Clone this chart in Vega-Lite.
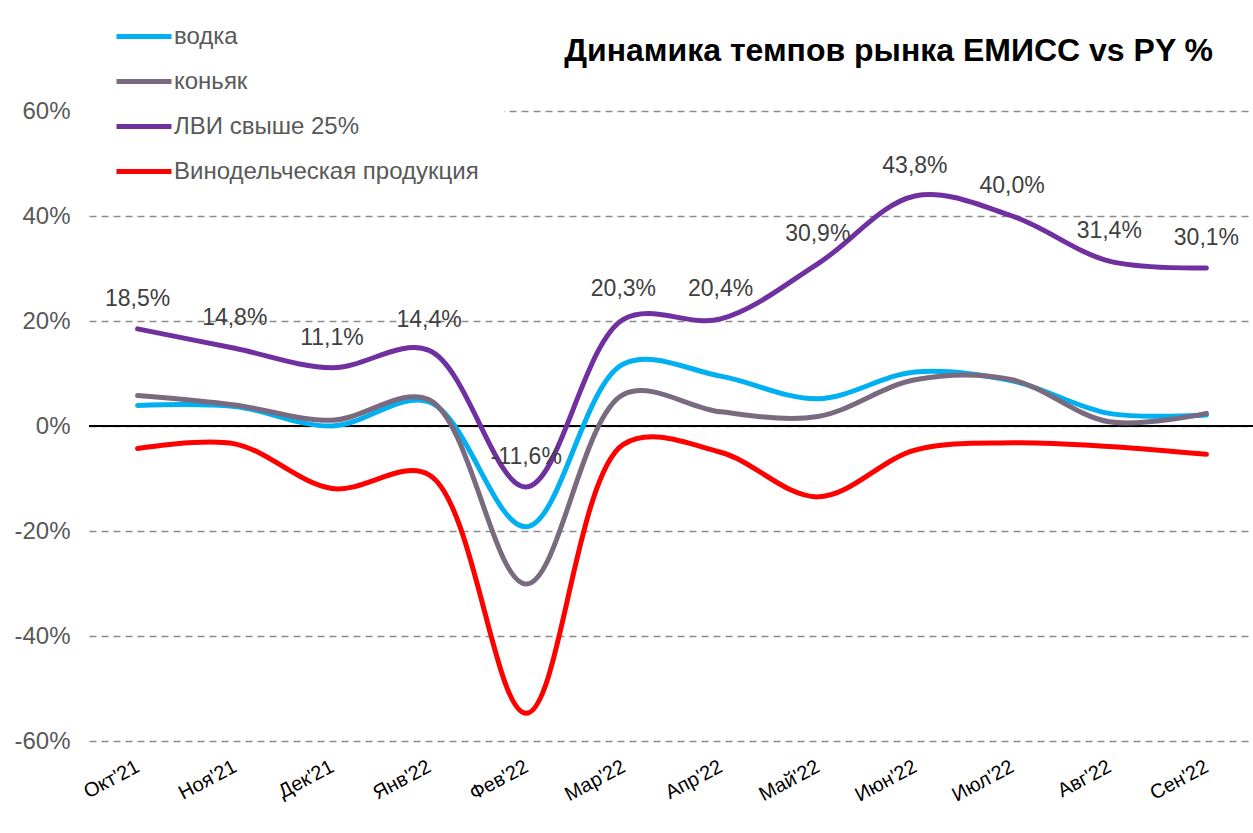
{
  "$schema": "https://vega.github.io/schema/vega-lite/v6.json",
  "autosize": {"type": "none"},
  "padding": {"left": 89, "top": 111, "right": 0, "bottom": 92},
  "width": 1166,
  "height": 630,
  "background": "white",
  "title": {
    "text": "Динамика темпов рынка ЕМИСС vs PY %",
    "anchor": "end",
    "frame": "group",
    "font": "Liberation Sans",
    "fontSize": 32,
    "fontWeight": "bold",
    "color": "black",
    "baseline": "bottom",
    "offset": -118,
    "dx": -42
  },
  "config": {
    "locale": {"number": {"decimal": ",", "thousands": " ", "grouping": [3], "currency": ["", " ₽"], "minus": "-"}},
    "view": {"stroke": null},
    "font": "Liberation Sans"
  },
  "data": {
    "values": [
      {"month": "Окт'21", "series": "водка", "value": 0.039},
      {"month": "Ноя'21", "series": "водка", "value": 0.037},
      {"month": "Дек'21", "series": "водка", "value": 0.000},
      {"month": "Янв'22", "series": "водка", "value": 0.046},
      {"month": "Фев'22", "series": "водка", "value": -0.192},
      {"month": "Мар'22", "series": "водка", "value": 0.118},
      {"month": "Апр'22", "series": "водка", "value": 0.095},
      {"month": "Май'22", "series": "водка", "value": 0.052},
      {"month": "Июн'22", "series": "водка", "value": 0.103},
      {"month": "Июл'22", "series": "водка", "value": 0.086},
      {"month": "Авг'22", "series": "водка", "value": 0.024},
      {"month": "Сен'22", "series": "водка", "value": 0.021},
      {"month": "Окт'21", "series": "коньяк", "value": 0.058},
      {"month": "Ноя'21", "series": "коньяк", "value": 0.040},
      {"month": "Дек'21", "series": "коньяк", "value": 0.011},
      {"month": "Янв'22", "series": "коньяк", "value": 0.050},
      {"month": "Фев'22", "series": "коньяк", "value": -0.301},
      {"month": "Мар'22", "series": "коньяк", "value": 0.060},
      {"month": "Апр'22", "series": "коньяк", "value": 0.027},
      {"month": "Май'22", "series": "коньяк", "value": 0.018},
      {"month": "Июн'22", "series": "коньяк", "value": 0.088},
      {"month": "Июл'22", "series": "коньяк", "value": 0.088},
      {"month": "Авг'22", "series": "коньяк", "value": 0.008},
      {"month": "Сен'22", "series": "коньяк", "value": 0.024},
      {"month": "Окт'21", "series": "ЛВИ свыше 25%", "value": 0.185},
      {"month": "Ноя'21", "series": "ЛВИ свыше 25%", "value": 0.148},
      {"month": "Дек'21", "series": "ЛВИ свыше 25%", "value": 0.111},
      {"month": "Янв'22", "series": "ЛВИ свыше 25%", "value": 0.144},
      {"month": "Фев'22", "series": "ЛВИ свыше 25%", "value": -0.116},
      {"month": "Мар'22", "series": "ЛВИ свыше 25%", "value": 0.203},
      {"month": "Апр'22", "series": "ЛВИ свыше 25%", "value": 0.204},
      {"month": "Май'22", "series": "ЛВИ свыше 25%", "value": 0.309},
      {"month": "Июн'22", "series": "ЛВИ свыше 25%", "value": 0.438},
      {"month": "Июл'22", "series": "ЛВИ свыше 25%", "value": 0.400},
      {"month": "Авг'22", "series": "ЛВИ свыше 25%", "value": 0.314},
      {"month": "Сен'22", "series": "ЛВИ свыше 25%", "value": 0.301},
      {"month": "Окт'21", "series": "Винодельческая продукция", "value": -0.043},
      {"month": "Ноя'21", "series": "Винодельческая продукция", "value": -0.034},
      {"month": "Дек'21", "series": "Винодельческая продукция", "value": -0.119},
      {"month": "Янв'22", "series": "Винодельческая продукция", "value": -0.093},
      {"month": "Фев'22", "series": "Винодельческая продукция", "value": -0.547},
      {"month": "Мар'22", "series": "Винодельческая продукция", "value": -0.035},
      {"month": "Апр'22", "series": "Винодельческая продукция", "value": -0.050},
      {"month": "Май'22", "series": "Винодельческая продукция", "value": -0.135},
      {"month": "Июн'22", "series": "Винодельческая продукция", "value": -0.046},
      {"month": "Июл'22", "series": "Винодельческая продукция", "value": -0.032},
      {"month": "Авг'22", "series": "Винодельческая продукция", "value": -0.039},
      {"month": "Сен'22", "series": "Винодельческая продукция", "value": -0.054}
    ]
  },
  "encoding": {
    "x": {
      "field": "month",
      "type": "ordinal",
      "sort": null,
      "scale": {"type": "point", "padding": 0.5},
      "axis": {
        "title": null,
        "domain": false,
        "ticks": false,
        "grid": false,
        "labelAngle": -28,
        "labelAlign": "right",
        "labelBaseline": "middle",
        "labelFontSize": 20,
        "labelColor": "black",
        "labelPadding": 24,
        "labelOffset": 0
      }
    },
    "y": {
      "field": "value",
      "type": "quantitative",
      "scale": {"domain": [-0.6, 0.6], "nice": false, "zero": false},
      "axis": {
        "title": null,
        "values": [-0.6, -0.4, -0.2, 0, 0.2, 0.4, 0.6],
        "format": ".0%",
        "domain": false,
        "ticks": false,
        "labelFontSize": 24,
        "labelColor": "#595959",
        "labelPadding": 19,
        "gridColor": "#8c8c8c",
        "gridWidth": 1.5,
        "gridDash": [7, 5]
      }
    }
  },
  "layer": [
    {
      "mark": {"type": "rule", "color": "black", "strokeWidth": 2},
      "encoding": {"y": {"datum": 0}, "x": null}
    },
    {
      "mark": {"type": "line", "interpolate": "catmull-rom", "strokeWidth": 5, "strokeCap": "round"},
      "encoding": {
        "color": {
          "field": "series",
          "type": "nominal",
          "sort": null,
          "scale": {
            "domain": ["водка", "коньяк", "ЛВИ свыше 25%", "Винодельческая продукция"],
            "range": ["#00b0f0", "#7a6a80", "#7030a0", "#ff0000"]
          },
          "legend": {
            "title": null,
            "orient": "none",
            "legendX": 0,
            "legendY": -129.5,
            "padding": 25,
            "fillColor": "white",
            "symbolType": "stroke",
            "symbolSize": 3025,
            "symbolStrokeWidth": 5,
            "labelFontSize": 24,
            "labelColor": "#595959",
            "labelOffset": 0,
            "rowPadding": 3,
            "labelLimit": 400
          }
        }
      }
    },
    {
      "transform": [{"filter": "datum.series === 'ЛВИ свыше 25%'"}],
      "mark": {"type": "text", "dy": -30, "fontSize": 23, "color": "#404040", "baseline": "middle", "align": "center"},
      "encoding": {
        "text": {"field": "value", "type": "quantitative", "format": ".1%"}
      }
    }
  ]
}
